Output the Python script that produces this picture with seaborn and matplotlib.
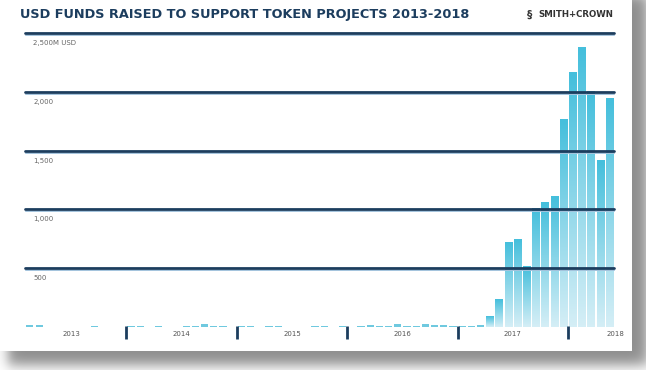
import numpy as np
import pandas as pd
import matplotlib
matplotlib.use('Agg')
import matplotlib.pyplot as plt
import seaborn as sns
from matplotlib.colors import to_rgba

# 数据：2013-01 到 2018-05 每月融资额（百万美元）
months = pd.date_range('2013-01', '2018-05', freq='MS').strftime('%Y-%m').tolist()
funds = [0, 12, 12, 0, 0, 0, 0, 0, 10, 0, 0, 0,          # 2013
         8, 8, 0, 8, 0, 0, 8, 8, 22, 8, 8, 0,            # 2014
         8, 8, 0, 8, 8, 0, 0, 0, 8, 8, 0, 8,             # 2015
         0, 10, 12, 10, 10, 22, 10, 10, 25, 12, 18, 10,  # 2016
         8, 10, 15, 93, 235, 724, 747, 517, 1008, 1060, 1114, 1767,  # 2017
         2172, 2385, 2008, 1420, 1951]                   # 2018
grid_vals = [500, 1000, 1500, 2000, 2500]
grid_labels = ['500', '1,000', '1,500', '2,000', '2,500M USD']
years = ['2013', '2014', '2015', '2016', '2017', '2018']
year_pos = [5.5, 17.5, 29.5, 41.5, 53.5, 64.7]
year_ticks = [11.5, 23.5, 35.5, 47.5, 59.5]

df = pd.DataFrame({'month': months, 'funds': funds})

navy = '#1c3d5e'
top_col = '#45bfdc'
bot_col = '#d4eef6'

sns.set_theme(style='white')
plt.rcParams['font.family'] = ['DejaVu Sans']

W, H = 646, 370
fig = plt.figure(figsize=(W / 100, H / 100), dpi=100)

# 背景卡片 + 阴影
bg = fig.add_axes([0, 0, 1, 1])
xx, yy = np.meshgrid(np.arange(W) + 0.5, np.arange(H) + 0.5)
sx = 0.5 * (np.tanh((xx - 8) / 7) - np.tanh((xx - 648) / 8))
sy = 0.5 * (np.tanh((yy + 5) / 7) - np.tanh((yy - 365) / 8))
shade = 1 - 0.45 * sx * sy
shade[(xx < 632) & (yy < 351)] = 1.0
bg.imshow(np.dstack([shade] * 3), extent=[0, W, H, 0], aspect='auto', zorder=-10)
bg.set_xlim(0, W)
bg.set_ylim(H, 0)
bg.axis('off')

# 主图
ax = fig.add_axes([25.3 / W, 43.3 / H, 588.7 / W, 293.4 / H])
ax.patch.set_alpha(0)
sns.barplot(data=df, x='month', y='funds', ax=ax, width=0.78, color=top_col,
            saturation=1, errorbar=None, zorder=2)

# 每根柱子做渐变（很矮的柱子直接用青色）
grad = np.zeros((64, 1, 4))
c0, c1 = np.array(to_rgba(bot_col)), np.array(to_rgba(top_col))
for k in range(64):
    grad[k, 0] = c0 + (c1 - c0) * (k / 63)
for p in ax.patches:
    h = p.get_height()
    if h <= 0:
        continue
    p.set_edgecolor('none')
    if h < 50:
        p.set_facecolor('#6fc9df')
        continue
    x0 = p.get_x()
    im = ax.imshow(grad, extent=[x0, x0 + p.get_width(), 0, h], aspect='auto',
                   origin='lower', zorder=2, interpolation='bilinear')
    im.set_clip_path(p)
    p.set_facecolor('none')

ax.set_xlim(0.5, 64.5)
ax.set_ylim(0, 2500)

# 网格线（画在柱子上面）
for v, lab in zip(grid_vals, grid_labels):
    ax.axhline(v - 16, color='#a3c3dc', lw=0.7, zorder=3, clip_on=False)
    ax.axhline(v, color=navy, lw=2.0, zorder=4, clip_on=False)
    ax.text(0.0136, v - 85, lab, transform=ax.get_yaxis_transform(),
            fontsize=5, color='#666666', va='center', ha='left')

# 年份分隔刻度和标签
for t in year_ticks:
    ax.plot([t, t], [5, -105], color=navy, lw=2.0, clip_on=False, zorder=4,
            solid_capstyle='butt')
for p_, y_ in zip(year_pos, years):
    ax.text(p_, -65, y_, fontsize=5, color='#555555', ha='center', va='center')

ax.set_xticks([])
ax.set_yticks([])
ax.set_xlabel('')
ax.set_ylabel('')
sns.despine(ax=ax, left=True, bottom=True)

# 标题（按宽度缩放字号，原图用的是窄体字）和 logo
title = fig.text(20 / W, 1 - 14.5 / H, 'USD FUNDS RAISED TO SUPPORT TOKEN PROJECTS 2013-2018',
                 fontsize=11.5, fontweight='bold', color=navy, va='center', ha='left')
r = fig.canvas.get_renderer()
tw = title.get_window_extent(renderer=r).width
title.set_fontsize(11.5 * 452 / tw)

fig.text(530 / W, 1 - 14.5 / H, '§', fontsize=7.5, fontweight='bold', color='#333333',
         va='center', ha='center')
fig.text(538 / W, 1 - 14.5 / H, 'SMITH+CROWN', fontsize=6.2, fontweight='bold',
         color='#333333', va='center', ha='left')

fig.savefig('out.png', dpi=100)
